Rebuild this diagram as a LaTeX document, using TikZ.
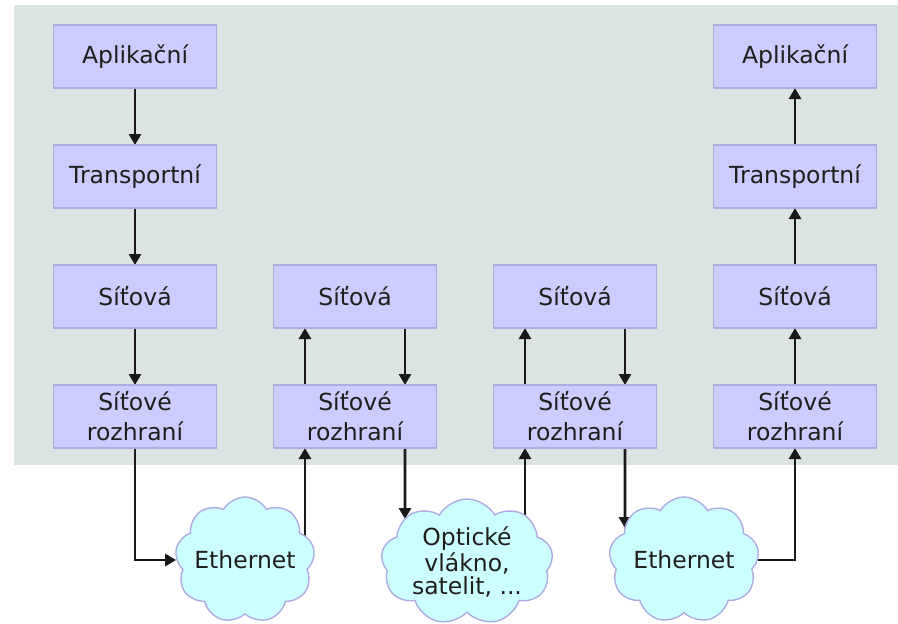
\documentclass[tikz,border=0pt]{standalone}
\usepackage{fontspec}
\setmainfont{DejaVu Sans}
\usetikzlibrary{positioning,shapes.symbols,arrows.meta,intersections}
\definecolor{panelgray}{RGB}{220,227,227}
\definecolor{layerfill}{RGB}{204,204,255}
\definecolor{layerline}{RGB}{172,172,224}
\definecolor{cloudfill}{RGB}{204,255,255}
\definecolor{textgray}{RGB}{30,30,30}
\pgfdeclarelayer{background}
\pgfsetlayers{background,main}

\begin{document}
\begin{tikzpicture}
[
x=0.5pt, y=-0.5pt,
node distance=28.5pt,
font=\fontsize{11.75}{15}\selectfont,
layerbox/.style={rectangle, fill=layerfill, draw=layerline, line width=0.8pt, minimum width=81.5pt, minimum height=31.5pt, align=center, text=textgray, inner sep=0, outer sep=0},
netcloud/.style={cloud, cloud puffs=9, cloud puff arc=120, cloud ignores aspect, fill=cloudfill, draw=layerline, line width=0.7pt, minimum height=63pt, align=center, text=textgray, inner sep=0, font=\fontsize{11.75}{11.5}\selectfont},
flow/.style={-{Triangle[length=5.5pt,width=6pt]}, line width=1.4pt, black!90}
]
\useasboundingbox (0,0) rectangle (898,623);

%Nodes
\node[layerbox]   (app1)                      at (135,56.5) {Aplikační};
\node[layerbox]   (tr1)    [below=of app1]    {Transportní};
\node[layerbox]   (net1)   [below=of tr1]     {Síťová};
\node[layerbox]   (nif1)   [below=of net1]    {Síťové\\rozhraní};
\node[layerbox]   (nif2)   [right=of nif1]    {Síťové\\rozhraní};
\node[layerbox]   (net2)   [above=of nif2]    {Síťová};
\node[layerbox]   (nif3)   [right=of nif2]    {Síťové\\rozhraní};
\node[layerbox]   (net3)   [above=of nif3]    {Síťová};
\node[layerbox]   (nif4)   [right=of nif3]    {Síťové\\rozhraní};
\node[layerbox]   (net4)   [above=of nif4]    {Síťová};
\node[layerbox]   (tr4)    [above=of net4]    {Transportní};
\node[layerbox]   (app4)   [above=of tr4]     {Aplikační};

\node[netcloud, minimum width=64pt, name path=eth1path]  (eth1)   at (245,560) {Ethernet};
\node[netcloud, minimum width=86pt, name path=opticpath] (optic)  at (467,562) {Optické\\vlákno,\\satelit, ...};
\node[netcloud, minimum width=75pt, name path=eth2path]  (eth2)   at (684,560) {Ethernet};

%Lines
\path[name path=opticdrop] ([xshift=25pt]nif2.south) -- ++(0,-100pt);
\path[name path=eth2drop]  ([xshift=25pt]nif3.south) -- ++(0,-100pt);
\path[name intersections={of=opticdrop and opticpath, by=opticin}];
\path[name intersections={of=eth2drop and eth2path, by=eth2in}];
\begin{pgfonlayer}{background}
\fill[panelgray] (14,5) rectangle (898,465);
\draw[flow] (app1) -- (tr1);
\draw[flow] (tr1) -- (net1);
\draw[flow] (net1) -- (nif1);
\draw[flow] (nif1) |- (eth1);
\draw[flow] ([xshift=-25pt]nif2.south |- eth1.center) -- ([xshift=-25pt]nif2.south);
\draw[flow] ([xshift=-25pt]nif2.north) -- ([xshift=-25pt]net2.south);
\draw[flow] ([xshift=25pt]net2.south) -- ([xshift=25pt]nif2.north);
\draw[flow] ([xshift=25pt]nif2.south) -- (opticin);
\draw[flow] ([xshift=-25pt]nif3.south |- optic.center) -- ([xshift=-25pt]nif3.south);
\draw[flow] ([xshift=-25pt]nif3.north) -- ([xshift=-25pt]net3.south);
\draw[flow] ([xshift=25pt]net3.south) -- ([xshift=25pt]nif3.north);
\draw[flow] ([xshift=25pt]nif3.south) -- (eth2in);
\draw[flow] (eth2) -| (nif4);
\draw[flow] (nif4) -- (net4);
\draw[flow] (net4) -- (tr4);
\draw[flow] (tr4) -- (app4);
\end{pgfonlayer}

\end{tikzpicture}
\end{document}
